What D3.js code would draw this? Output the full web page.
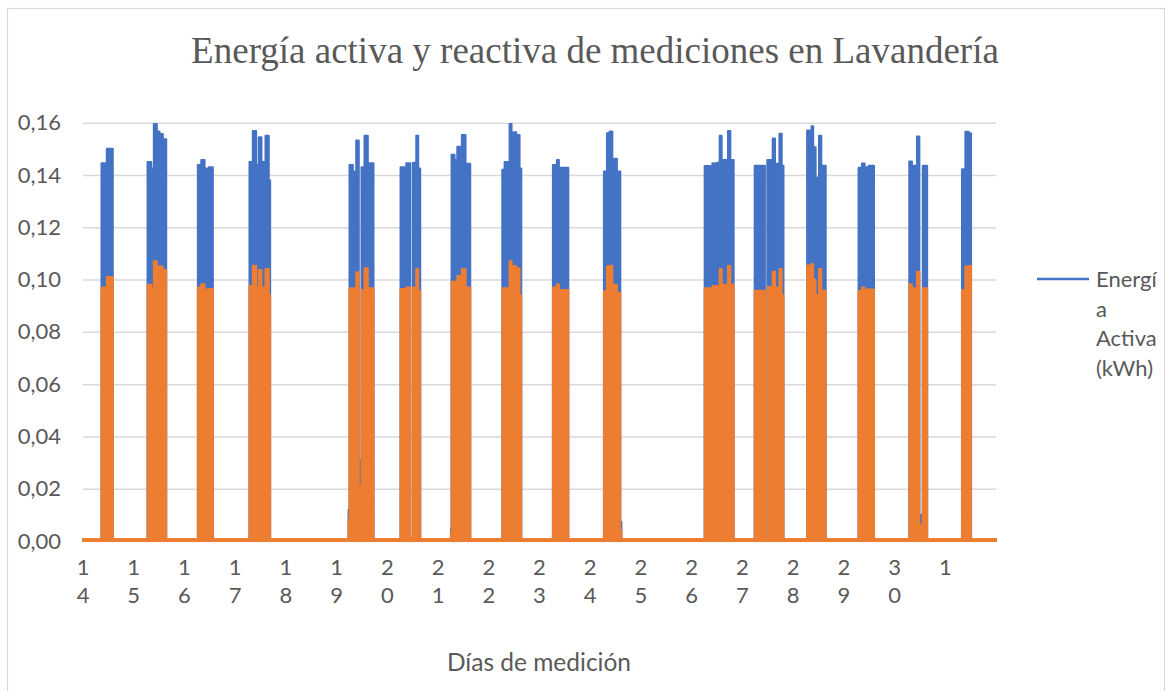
<!DOCTYPE html>
<html>
<head>
<meta charset="utf-8">
<script src="https://cdn.jsdelivr.net/npm/d3@7"></script>
<style>
  body { margin: 0; background: #fff; }
  text { fill: #595959; font-family: Lato, "Open Sans", sans-serif; }
  .title { font-family: "Liberation Serif", "Times New Roman", serif; }
</style>
</head>
<body>
<svg width="1171" height="691"></svg>
<script>
// Days on the category axis (14 ... 30, then 1)
const days = ["14","15","16","17","18","19","20","21","22","23","24","25","26","27","28","29","30","1"];
const yTicks = [0, 0.02, 0.04, 0.06, 0.08, 0.10, 0.12, 0.14, 0.16];
const idleKWh = 0.0008;

// Operating periods: day index, clock hours where each reading block starts (last = switch off)
const burstDay = [0, 1, 2, 3, 5, 6, 7, 8, 9, 10, 12, 13, 14, 15, 16, 17];
const burstHours = [
  [8.75, 11.25, 14.1],
  [6.53, 8.28, 9.51, 10.93, 12.21, 13.77, 15.38],
  [6.34, 7.95, 9.51, 11.55, 13.44],
  [6.77, 8.33, 9.94, 11.17, 12.45, 14.34, 15.9, 16.56],
  [5.63, 6.10, 7.67, 9.27, 10.5, 11.07, 11.78, 13.2, 14.76, 17.46],
  [6.25, 8.94, 10.84, 12.07, 13.68, 14.62, 15.57],
  [6.1, 6.39, 7.81, 9.09, 10.5, 11.26, 13.01, 15.24],
  [6.39, 7.48, 9.04, 9.84, 10.79, 11.74, 13.01, 14.57, 15.38],
  [6.34, 8.23, 9.18, 13.63],
  [6.48, 7.9, 9.18, 10.46, 11.4, 12.63, 14.24, 14.39, 14.76],
  [6.15, 8.85, 9.8, 10.88, 11.83, 13.25, 14.2, 17.18, 18.31, 19.87],
  [5.82, 10.65, 11.78, 13.86, 14.34, 15.43, 16.23, 17.51, 18.6, 19.45],
  [6.62, 7.9, 8.71, 9.51, 10.65, 11.45, 12.26, 13.34, 15.43],
  [6.96, 8.56, 9.84, 11.74, 14.29],
  [6.96, 8.23, 9.8, 10.6, 11.74, 12.3, 12.78, 13.34, 15.43],
  [7.9, 9.51, 11.07, 12.21]
];
// Active energy (kWh) peak readings per block
const activeKWh = [
  [0.1445, 0.150],
  [0.145, 0.1425, 0.1595, 0.1566, 0.1557, 0.1537],
  [0.1438, 0.1457, 0.1425, 0.143],
  [0.145, 0.1568, 0.1438, 0.1544, 0.145, 0.155, 0.138],
  [0.012, 0.1438, 0.1413, 0.1532, 0.001, 0.031, 0.143, 0.155, 0.1445],
  [0.143, 0.1445, 0.001, 0.1447, 0.155, 0.1425],
  [0.005, 0.1477, 0.1457, 0.1508, 0.136, 0.1553, 0.1443],
  [0.142, 0.145, 0.143, 0.1595, 0.145, 0.1563, 0.1553, 0.1425],
  [0.1438, 0.1457, 0.1428],
  [0.1413, 0.156, 0.1566, 0.143, 0.1462, 0.1413, 0.001, 0.0074],
  [0.1434, 0.138, 0.1445, 0.001, 0.1447, 0.155, 0.1457, 0.1568, 0.1457],
  [0.1435, 0.001, 0.1457, 0.001, 0.154, 0.144, 0.1443, 0.1558, 0.1435],
  [0.157, 0.155, 0.1586, 0.1506, 0.139, 0.001, 0.155, 0.1435],
  [0.1428, 0.1444, 0.143, 0.1435],
  [0.1452, 0.1435, 0.139, 0.1547, 0.001, 0.01, 0.001, 0.1435],
  [0.1422, 0.1565, 0.156]
];
// Reactive energy peak readings per block
const reactiveKVArh = [
  [0.097, 0.101],
  [0.098, 0.0967, 0.107, 0.105, 0.105, 0.1037],
  [0.097, 0.0982, 0.0962, 0.0964],
  [0.0975, 0.1053, 0.097, 0.1037, 0.097, 0.104, 0.094],
  [0.008, 0.0967, 0.0967, 0.1028, 0.001, 0.021, 0.096, 0.1043, 0.0967],
  [0.0964, 0.097, 0.001, 0.097, 0.104, 0.0955],
  [0.003, 0.0992, 0.0992, 0.1014, 0.094, 0.104, 0.097],
  [0.0967, 0.0967, 0.0967, 0.107, 0.098, 0.1052, 0.1043, 0.094],
  [0.097, 0.0982, 0.096],
  [0.0955, 0.105, 0.1053, 0.0967, 0.098, 0.095, 0.001, 0.004],
  [0.0967, 0.096, 0.0975, 0.001, 0.0975, 0.104, 0.098, 0.1053, 0.098],
  [0.0957, 0.001, 0.0972, 0.001, 0.103, 0.097, 0.097, 0.104, 0.094],
  [0.1054, 0.104, 0.106, 0.1, 0.094, 0.001, 0.104, 0.0957],
  [0.0956, 0.097, 0.0962, 0.0962],
  [0.0982, 0.0967, 0.094, 0.103, 0.001, 0.006, 0.001, 0.0967],
  [0.096, 0.105, 0.1052]
];
const legendLines = ["Energí", "a", "Activa", "(kWh)"];

const svg = d3.select("svg");
const margin = { top: 122.7, left: 83, right: 175, bottom: 150 };
const width = 1171 - margin.left - margin.right;
const height = 541 - margin.top;

// build step series: idle between bursts
function buildSeries(values) {
  const pts = [{ t: 0, v: idleKWh }];
  burstDay.forEach((d, b) => {
    const hrs = burstHours[b];
    values[b].forEach((v, i) => pts.push({ t: d * 24 + hrs[i], v: v }));
    pts.push({ t: d * 24 + hrs[hrs.length - 1], v: idleKWh });
  });
  pts.push({ t: days.length * 24, v: idleKWh });
  return pts;
}
const active = buildSeries(activeKWh);
const reactive = buildSeries(reactiveKVArh);

const x = d3.scaleLinear().domain([0, days.length * 24]).range([0, width]);
const y = d3.scaleLinear().domain([0, 0.16]).range([height, 0]);

// outer chart border
svg.append("rect")
  .attr("x", 7.5).attr("y", 8.5)
  .attr("width", 1157).attr("height", 720)
  .attr("fill", "none").attr("stroke", "#d9d9d9").attr("stroke-width", 1.2);

svg.append("text")
  .attr("class", "title")
  .attr("x", 595).attr("y", 63)
  .attr("text-anchor", "middle")
  .style("font-size", "37px")
  .text("Energía activa y reactiva de mediciones en Lavandería");

const g = svg.append("g").attr("transform", `translate(${margin.left}, ${margin.top})`);

// gridlines + y labels
const locale = d3.formatLocale({ decimal: ",", thousands: ".", grouping: [3], currency: ["", "€"] });
const yAxis = d3.axisLeft(y).tickValues(yTicks).tickSize(-width).tickPadding(22).tickFormat(locale.format(".2f"));
g.append("g")
  .attr("class", "y-axis")
  .call(yAxis)
  .call(a => a.select(".domain").remove())
  .call(a => a.selectAll("line").attr("stroke", "#d9d9d9").attr("stroke-width", 1.5))
  .call(a => a.selectAll("text").style("font-size", "22px").attr("fill", "#595959"));

// series as dense filled blocks
const area = d3.area()
  .x(d => x(d.t))
  .y0(y(0))
  .y1(d => y(d.v))
  .curve(d3.curveStepAfter);

g.append("path")
  .datum(active)
  .attr("d", area)
  .attr("fill", "#4472c4")
  .attr("stroke", "#4472c4")
  .attr("stroke-width", 2)
  .attr("stroke-linejoin", "round");

g.append("path")
  .datum(reactive)
  .attr("d", area)
  .attr("fill", "#ed7d31")
  .attr("stroke", "#ed7d31")
  .attr("stroke-width", 2)
  .attr("stroke-linejoin", "round");

// x axis: day labels written digit over digit
const xAxis = g.append("g").attr("class", "x-axis").attr("transform", `translate(0, ${height})`);
days.forEach((d, i) => {
  const t = xAxis.append("text")
    .attr("x", x(i * 24))
    .attr("text-anchor", "middle")
    .style("font-size", "22px");
  d.split("").forEach((ch, j) => {
    t.append("tspan")
      .attr("x", x(i * 24))
      .attr("y", 34 + j * 28)
      .text(ch);
  });
});

svg.append("text")
  .attr("x", 539).attr("y", 671)
  .attr("text-anchor", "middle")
  .style("font-size", "24.5px")
  .text("Días de medición");

// legend
const lg = svg.append("g").attr("transform", "translate(1037, 279)");
lg.append("line")
  .attr("x1", 0).attr("x2", 52)
  .attr("stroke", "#4472c4").attr("stroke-width", 2.5);
legendLines.forEach((s, i) => {
  lg.append("text")
    .attr("x", 59).attr("y", 8 + i * 29.5)
    .style("font-size", "22px")
    .text(s);
});
</script>
</body>
</html>
